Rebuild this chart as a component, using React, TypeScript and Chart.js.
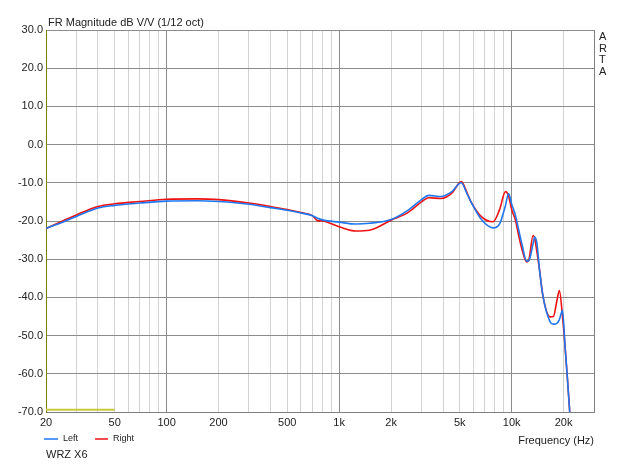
import { useEffect, useRef } from "react"
import { Chart, registerables } from "chart.js"

Chart.register(...registerables)

// frequencies (Hz) shared by both channels
const freqs = [
  20, 25, 30, 40, 50, 70, 100, 150, 200, 300, 400, 500, 600, 700, 750, 800, 1000, 1250, 1500, 2000,
  2500, 3000, 3300, 3900, 4500, 5100, 5500, 5800, 6700, 7800, 8500, 9200, 9600, 10000, 10500, 11000,
  11500, 12200, 12600, 13300, 13600, 14000, 14500, 15200, 16700, 17450, 18260, 18900, 19700, 20400,
  21100, 21700,
]

const leftDb = [
  -21.9, -20.3, -18.8, -16.6, -15.9, -15.3, -14.8, -14.7, -14.9, -15.6, -16.5, -17.2, -17.9, -18.6, -19.3, -19.7,
  -20.3, -20.8, -20.6, -19.6, -17.2, -14.4, -13.3, -13.6, -12.3, -10.0, -12.8, -14.9, -19.7, -21.8, -20.8, -16.0,
  -12.8, -15.6, -18.4, -22.5, -26.3, -30.5, -30.3, -26.0, -24.2, -25.8, -32.8, -39.8, -46.4, -47.0, -46.8, -45.8,
  -43.4, -53.0, -62.0, -70,
]

const rightDb = [
  -22.0, -20.0, -18.4, -16.2, -15.5, -14.9, -14.3, -14.2, -14.4, -15.3, -16.2, -17.0, -17.8, -18.6, -19.9, -20.0,
  -21.5, -22.6, -22.4, -19.8, -17.8, -15.0, -13.9, -14.1, -12.7, -9.7, -12.5, -14.9, -18.9, -20.2, -17.1, -12.3,
  -13.5, -17.0, -19.7, -24.0, -27.6, -30.7, -30.0, -23.8, -24.6, -28.0, -32.8, -39.8, -45.1, -45.0, -41.0, -38.2,
  -45.0, -53.0, -62.0, -70,
]

// yellow marker along the bottom
const markerFreqs = [20, 50]
const markerDb = [-69.4, -69.4]

const xTickValues = [20, 50, 100, 200, 500, 1000, 2000, 5000, 10000, 20000]
const xTickLabels = ["20", "50", "100", "200", "500", "1k", "2k", "5k", "10k", "20k"]

const FONT = "'Liberation Sans', Arial, sans-serif"
const TEXT = "#222"

const gridFreqs: number[] = []
for (let d = 10; d <= 10000; d *= 10) {
  for (let m = 1; m <= 9; m++) {
    const f = d * m
    if (f >= 20 && f <= 30000) gridFreqs.push(f)
  }
}

const textPlugin = {
  id: "artaText",
  afterDraw(chart) {
    const { ctx, chartArea } = chart
    ctx.save()
    // right border
    ctx.strokeStyle = "#808080"
    ctx.lineWidth = 1
    ctx.beginPath()
    ctx.moveTo(chartArea.right + 0.5, chartArea.top)
    ctx.lineTo(chartArea.right + 0.5, chartArea.bottom)
    ctx.stroke()

    ctx.fillStyle = TEXT
    ctx.font = `11px ${FONT}`
    ctx.textAlign = "left"
    ctx.textBaseline = "alphabetic"
    ctx.fillText("FR Magnitude dB V/V (1/12 oct)", 48, 26)

    // ARTA vertical
    ctx.textBaseline = "middle"
    const letters = ["A", "R", "T", "A"]
    letters.forEach((l, i) => ctx.fillText(l, 599, 37 + i * 11.7))

    ctx.textAlign = "right"
    ctx.fillText("Frequency (Hz)", 594, 441)

    ctx.textAlign = "left"
    ctx.fillText("WRZ X6", 46, 455)

    // legend
    ctx.font = `9px ${FONT}`
    ctx.lineWidth = 1.5
    ctx.strokeStyle = "#1f77f0"
    ctx.beginPath()
    ctx.moveTo(44, 439)
    ctx.lineTo(58, 439)
    ctx.stroke()
    ctx.fillText("Left", 63, 439)
    ctx.strokeStyle = "#ee1111"
    ctx.beginPath()
    ctx.moveTo(95, 439)
    ctx.lineTo(108, 439)
    ctx.stroke()
    ctx.fillText("Right", 113, 439)
    ctx.restore()
  },
}

export default function App() {
  const canvasRef = useRef(null)
  const chartRef = useRef(null)

  useEffect(() => {
    if (!canvasRef.current) return
    if (chartRef.current) chartRef.current.destroy()

    chartRef.current = new Chart(canvasRef.current, {
      type: "line",
      data: {
        datasets: [
          {
            label: "Left",
            data: freqs.map((f, i) => ({ x: f, y: leftDb[i] })),
            borderColor: "#1f77f0",
            borderWidth: 1.6,
            pointRadius: 0,
            cubicInterpolationMode: "monotone",
          },
          {
            label: "Right",
            data: freqs.map((f, i) => ({ x: f, y: rightDb[i] })),
            borderColor: "#ee1111",
            borderWidth: 1.6,
            pointRadius: 0,
            cubicInterpolationMode: "monotone",
          },
          {
            label: "marker",
            data: markerFreqs.map((f, i) => ({ x: f, y: markerDb[i] })),
            borderColor: "#c8c83c",
            borderWidth: 2,
            pointRadius: 0,
          },
        ],
      },
      options: {
        responsive: false,
        animation: false,
        devicePixelRatio: 1,
        layout: { padding: { top: 30, right: 46, left: 0, bottom: 0 } },
        plugins: {
          legend: { display: false },
          tooltip: { enabled: false },
        },
        scales: {
          x: {
            type: "logarithmic",
            min: 20,
            max: 30000,
            afterBuildTicks: (s) => {
              s.ticks = gridFreqs.map((v) => ({ value: v }))
            },
            afterFit: (s) => {
              s.height = 52
            },
            ticks: {
              autoSkip: false,
              maxRotation: 0,
              padding: 4,
              color: TEXT,
              font: { family: FONT, size: 11 },
              major: { enabled: false },
              callback: (v) => {
                const i = xTickValues.indexOf(Number(v))
                return i >= 0 ? xTickLabels[i] : ""
              },
            },
            grid: {
              drawTicks: false,
              color: (ctx) => {
                const v = ctx.tick ? ctx.tick.value : 0
                return [100, 1000, 10000].includes(v) ? "#8c8c8c" : "#d2d2d2"
              },
            },
            border: { color: "#808080" },
          },
          y: {
            min: -70,
            max: 30,
            afterFit: (s) => {
              s.width = 46
            },
            ticks: {
              stepSize: 10,
              padding: 3,
              color: TEXT,
              font: { family: FONT, size: 11 },
              callback: (v) => Number(v).toFixed(1),
            },
            grid: { drawTicks: false, color: "#8c8c8c" },
            border: { color: "#808000" },
          },
        },
      },
      plugins: [textPlugin],
    })

    return () => {
      if (chartRef.current) {
        chartRef.current.destroy()
        chartRef.current = null
      }
    }
  }, [])

  return (
    <div style={{ position: "absolute", left: 0, top: 0, width: 640, height: 464, background: "#fff" }}>
      <canvas ref={canvasRef} width={640} height={464} style={{ width: 640, height: 464 }}></canvas>
    </div>
  )
}
